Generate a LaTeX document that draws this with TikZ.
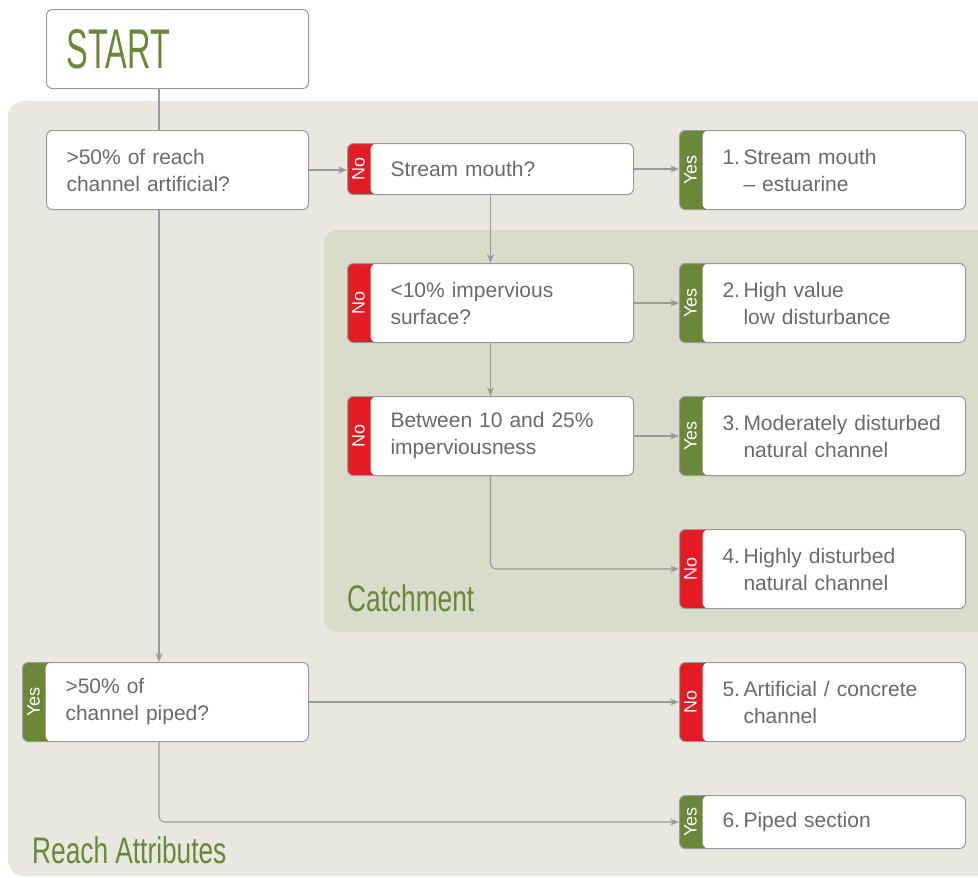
\documentclass[tikz,border=0pt]{standalone}
\usepackage{fontspec}
\setmainfont{Liberation Sans}
\newfontfamily\headfont[FakeStretch=0.71]{Liberation Sans}
\newfontfamily\startfont[FakeStretch=0.58]{Liberation Sans}
\usetikzlibrary{arrows.meta}
\definecolor{panelgray}{HTML}{E8E8E0}
\definecolor{catchgray}{HTML}{D9DBCB}
\definecolor{linegray}{HTML}{9A9A9A}
\definecolor{textgray}{HTML}{6A6A6A}
\definecolor{tagred}{HTML}{E31B23}
\definecolor{taggreen}{HTML}{6B873A}
\newcommand{\itemno}[1]{\makebox[21pt][l]{#1}}
\newcommand{\cont}{\hspace*{21pt}}
\tikzset{
  box/.style={draw=linegray, line width=1pt, fill=white, rounded corners=6pt, anchor=north west,
    minimum height=79pt, text width=222pt, inner xsep=20pt, inner ysep=0pt, align=left,
    text=textgray, font=\fontsize{21}{27}\selectfont},
  tagged/.style={box, text width=246pt, execute at begin node={\leftskip=23pt},
    path picture={
      \fill[#1, sharp corners] (path picture bounding box.south west) rectangle ([xshift=30pt]path picture bounding box.north west);
      \fill[white, rounded corners=6pt] ([xshift=23pt]path picture bounding box.south west) rectangle ([xshift=20pt]path picture bounding box.north east);
    }},
  taglabel/.style={rotate=90, text=white, inner sep=0pt, font=\fontsize{18}{18}\selectfont},
  heading/.style={anchor=base west, inner sep=0pt, text=taggreen, font=\headfont\fontsize{37}{37}\selectfont},
  conn/.style={draw=linegray, line width=1.1pt},
}
\begin{document}
\begin{tikzpicture}[x=1pt, y=-1pt, >={Stealth[length=9pt,width=7pt]}]
\clip (0,0) rectangle (978,878);
% panels
\fill[panelgray, rounded corners=16pt] (8,101) rectangle (1000,876);
\fill[catchgray, rounded corners=14pt] (324,230) rectangle (1000,632);
\node[heading] (catchlabel) at (347,611) {Catchment};
\node[heading] (reachlabel) at (32,863) {Reach Attributes};
% questions
\node[box, font=\startfont\fontsize{56}{56}\selectfont, text=taggreen] (start) at (46,9) {START};
\node[box] (q1) at (46,130) {>50\% of reach\\channel artificial?};
\node[tagged=tagred, minimum height=51pt] (mouth) at (347,143) {Stream mouth?};
\node[tagged=tagred] (q2) at (347,263) {<10\% impervious\\surface?};
\node[tagged=tagred] (q3) at (347,396) {Between 10 and 25\%\\imperviousness};
\node[tagged=taggreen] (q4) at (22,662) {>50\% of\\channel piped?};
% outcomes
\node[tagged=taggreen] (out1) at (679,130) {\itemno{1.}Stream mouth\\\cont-- estuarine};
\node[tagged=taggreen] (out2) at (679,263) {\itemno{2.}High value\\\cont low disturbance};
\node[tagged=taggreen] (out3) at (679,396) {\itemno{3.}Moderately disturbed\\\cont natural channel};
\node[tagged=tagred] (out4) at (679,529) {\itemno{4.}Highly disturbed\\\cont natural channel};
\node[tagged=tagred] (out5) at (679,662) {\itemno{5.}Artificial / concrete\\\cont channel};
\node[tagged=taggreen, minimum height=53pt] (out6) at (679,795) {\itemno{6.}Piped section};
% tags
\node[taglabel] (mouthtag) at ([xshift=11.5pt]mouth.west) {No};
\node[taglabel] (q2tag) at ([xshift=11.5pt]q2.west) {No};
\node[taglabel] (q3tag) at ([xshift=11.5pt]q3.west) {No};
\node[taglabel] (q4tag) at ([xshift=11.5pt]q4.west) {Yes};
\node[taglabel] (out1tag) at ([xshift=11.5pt]out1.west) {Yes};
\node[taglabel] (out2tag) at ([xshift=11.5pt]out2.west) {Yes};
\node[taglabel] (out3tag) at ([xshift=11.5pt]out3.west) {Yes};
\node[taglabel] (out4tag) at ([xshift=11.5pt]out4.west) {No};
\node[taglabel] (out5tag) at ([xshift=11.5pt]out5.west) {No};
\node[taglabel] (out6tag) at ([xshift=11.5pt]out6.west) {Yes};
% connectors
\coordinate (trunk) at (159,0);
\draw[conn] (trunk |- start.south) -- (trunk |- q1.north);
\draw[conn,->] (q1.east) -- (q1.east -| mouth.west);
\draw[conn,->] (mouth.east) -- (mouth.east -| out1.west);
\draw[conn,->] (mouth.south) -- (q2.north);
\draw[conn,->] (q2.east) -- (out2.west);
\draw[conn,->] (q2.south) -- (q3.north);
\draw[conn,->] (q3.east) -- (out3.west);
\draw[conn,->,rounded corners=6pt] (q3.south) |- (out4.west);
\draw[conn,->] (trunk |- q1.south) -- (trunk |- q4.north);
\draw[conn,->] (q4.east) -- (out5.west);
\draw[conn,->,rounded corners=6pt] (trunk |- q4.south) |- (out6.west);
\end{tikzpicture}
\end{document}
